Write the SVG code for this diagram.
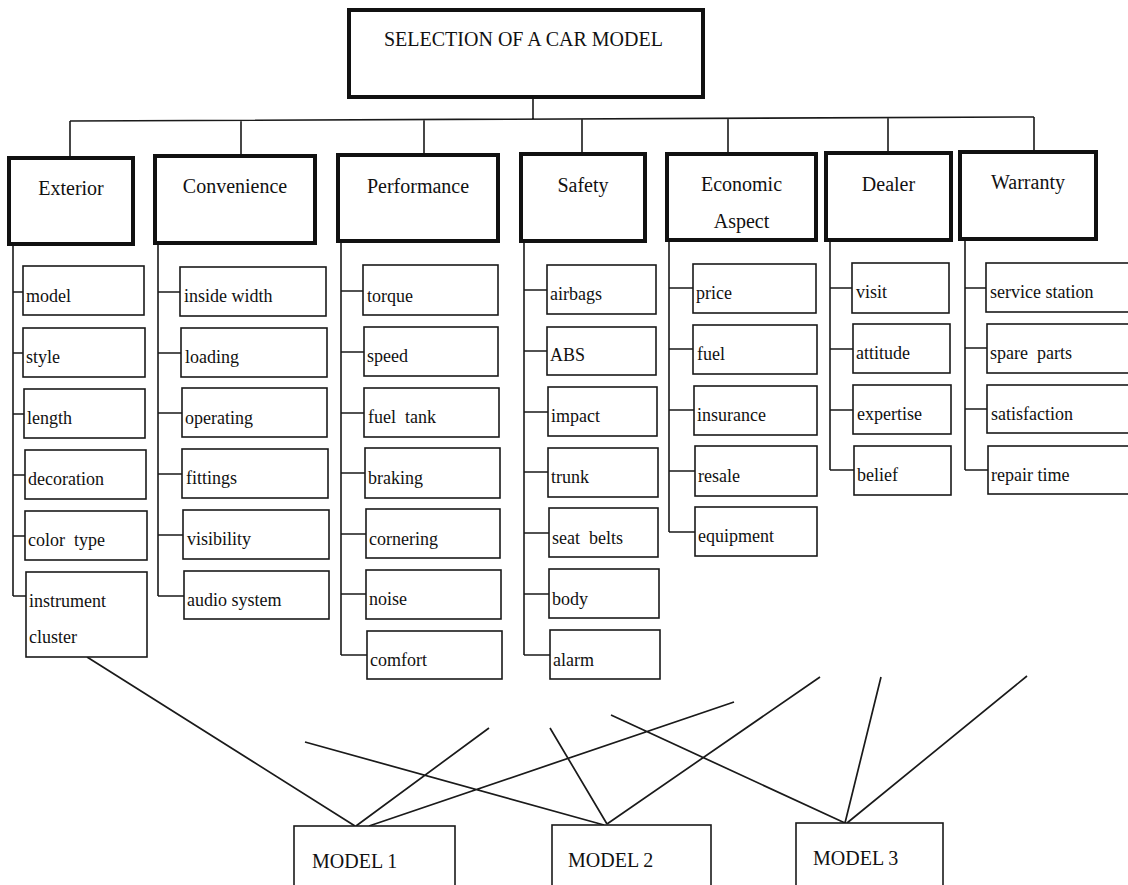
<svg xmlns="http://www.w3.org/2000/svg" width="1128" height="885" viewBox="0 0 1128 885">
<style>
  .top{fill:#fff;stroke:#111;stroke-width:4}
  .cat{fill:#fff;stroke:#111;stroke-width:4}
  .sub{fill:#fff;stroke:#1a1a1a;stroke-width:1.6}
  .mdl{fill:#fff;stroke:#1a1a1a;stroke-width:1.6}
  .ln{stroke:#1a1a1a;stroke-width:1.6;fill:none}
  .dg{stroke:#1a1a1a;stroke-width:1.7;fill:none}
  text{font-family:"Liberation Serif","Times New Roman",serif;fill:#111}
  .t20{font-size:20px}
  .tc{font-size:20px;text-anchor:middle}
  .t18{font-size:18px}
</style>
<rect width="1128" height="885" fill="#fff"/>

<!-- connectors -->
<g id="connectors">
  <path class="ln" d="M533,97 V119 M70,121 L1034,117 M70,121 V158 M241,120 V156 M424,120 V155 M582,119 V154 M728,119 V154 M888,118 V153 M1034,117 V152"/>
  <!-- Exterior -->
  <path class="ln" d="M13,244 V596 M13,292 H23 M13,353 H23 M13,414 H24 M13,475 H25 M13,536 H25 M13,596 H26"/>
  <!-- Convenience -->
  <path class="ln" d="M158,243 V596 M158,292 H180 M158,353 H181 M158,413 H182 M158,474 H182 M158,535 H183 M158,596 H184"/>
  <!-- Performance -->
  <path class="ln" d="M341,241 V655 M341,291 H363 M341,352 H364 M341,413 H364 M341,473 H365 M341,534 H366 M341,594 H366 M341,655 H367"/>
  <!-- Safety -->
  <path class="ln" d="M524,241 V655 M524,290 H547 M524,351 H547 M524,412 H548 M524,472 H548 M524,533 H549 M524,594 H549 M524,655 H550"/>
  <!-- Economic -->
  <path class="ln" d="M669,240 V532 M669,288 H693 M669,349 H693 M669,410 H694 M669,471 H695 M669,532 H695"/>
  <!-- Dealer -->
  <path class="ln" d="M830,240 V470 M830,288 H852 M830,349 H853 M830,410 H853 M830,470 H854"/>
  <!-- Warranty -->
  <path class="ln" d="M965,239 V470 M965,288 H986 M965,348 H987 M965,409 H987 M965,470 H988"/>
  <!-- criteria to models -->
  <path class="dg" d="M87,657 L355,826 M305,742 L604,825 M489,728 L356,826 M734,702 L369,826 M550,728 L607,824 M820,677 L607,824 M611,715 L845,823 M881,677 L845,823 M1027,676 L847,823"/>
</g>

<g id="goal">
  <rect class="top" x="349" y="10" width="354" height="87"/>
  <text class="t20" x="384" y="46">SELECTION OF A CAR MODEL</text>
</g>

<g id="cat-exterior"><rect class="cat" x="9" y="158" width="124" height="86"/><text class="tc" x="71" y="195">Exterior</text></g>
<g id="cat-convenience"><rect class="cat" x="155" y="156" width="160" height="87"/><text class="tc" x="235" y="193">Convenience</text></g>
<g id="cat-performance"><rect class="cat" x="338" y="155" width="160" height="86"/><text class="tc" x="418" y="193">Performance</text></g>
<g id="cat-safety"><rect class="cat" x="521" y="154" width="124" height="87"/><text class="tc" x="583" y="192">Safety</text></g>
<g id="cat-economic"><rect class="cat" x="667" y="154" width="149" height="86"/><text class="tc" x="741.5" y="191">Economic</text><text class="tc" x="741.5" y="228">Aspect</text></g>
<g id="cat-dealer"><rect class="cat" x="826" y="153" width="125" height="87"/><text class="tc" x="888.5" y="191">Dealer</text></g>
<g id="cat-warranty"><rect class="cat" x="960" y="152" width="136" height="87"/><text class="tc" x="1028" y="189">Warranty</text></g>

<!-- Exterior sub-criteria -->
<g id="ext-model"><rect class="sub" x="23" y="266" width="121" height="49"/><text class="t18" x="26" y="302">model</text></g>
<g id="ext-style"><rect class="sub" x="23" y="328" width="122" height="49"/><text class="t18" x="26" y="363">style</text></g>
<g id="ext-length"><rect class="sub" x="24" y="389" width="121" height="49"/><text class="t18" x="27" y="424">length</text></g>
<g id="ext-decoration"><rect class="sub" x="25" y="450" width="121" height="49"/><text class="t18" x="28" y="485">decoration</text></g>
<g id="ext-color"><rect class="sub" x="25" y="511" width="122" height="49"/><text class="t18" x="28" y="546" xml:space="preserve">color  type</text></g>
<g id="ext-instrument"><rect class="sub" x="26" y="572" width="121" height="85"/><text class="t18" x="29" y="607">instrument</text><text class="t18" x="29" y="643">cluster</text></g>

<!-- Convenience sub-criteria -->
<g id="con-inside"><rect class="sub" x="180" y="267" width="146" height="49"/><text class="t18" x="184" y="302">inside width</text></g>
<g id="con-loading"><rect class="sub" x="181" y="328" width="146" height="49"/><text class="t18" x="185" y="363">loading</text></g>
<g id="con-operating"><rect class="sub" x="182" y="388" width="145" height="49"/><text class="t18" x="185" y="424">operating</text></g>
<g id="con-fittings"><rect class="sub" x="182" y="449" width="146" height="49"/><text class="t18" x="186" y="484">fittings</text></g>
<g id="con-visibility"><rect class="sub" x="183" y="510" width="146" height="49"/><text class="t18" x="187" y="545">visibility</text></g>
<g id="con-audio"><rect class="sub" x="184" y="571" width="145" height="48"/><text class="t18" x="187" y="606">audio system</text></g>

<!-- Performance sub-criteria -->
<g id="per-torque"><rect class="sub" x="363" y="265" width="135" height="50"/><text class="t18" x="367" y="302">torque</text></g>
<g id="per-speed"><rect class="sub" x="364" y="327" width="134" height="49"/><text class="t18" x="367" y="362">speed</text></g>
<g id="per-fueltank"><rect class="sub" x="364" y="388" width="135" height="49"/><text class="t18" x="368" y="423" xml:space="preserve">fuel  tank</text></g>
<g id="per-braking"><rect class="sub" x="365" y="448" width="135" height="50"/><text class="t18" x="368" y="484">braking</text></g>
<g id="per-cornering"><rect class="sub" x="366" y="509" width="134" height="49"/><text class="t18" x="369" y="545">cornering</text></g>
<g id="per-noise"><rect class="sub" x="366" y="570" width="135" height="49"/><text class="t18" x="369" y="605">noise</text></g>
<g id="per-comfort"><rect class="sub" x="367" y="631" width="135" height="48"/><text class="t18" x="370" y="666">comfort</text></g>

<!-- Safety sub-criteria -->
<g id="saf-airbags"><rect class="sub" x="547" y="265" width="109" height="49"/><text class="t18" x="550" y="300">airbags</text></g>
<g id="saf-abs"><rect class="sub" x="547" y="327" width="109" height="48"/><text class="t18" x="550" y="361">ABS</text></g>
<g id="saf-impact"><rect class="sub" x="548" y="387" width="109" height="49"/><text class="t18" x="551" y="422">impact</text></g>
<g id="saf-trunk"><rect class="sub" x="548" y="448" width="110" height="49"/><text class="t18" x="551" y="483">trunk</text></g>
<g id="saf-seatbelts"><rect class="sub" x="549" y="508" width="109" height="49"/><text class="t18" x="552" y="544" xml:space="preserve">seat  belts</text></g>
<g id="saf-body"><rect class="sub" x="549" y="569" width="110" height="49"/><text class="t18" x="552" y="605">body</text></g>
<g id="saf-alarm"><rect class="sub" x="550" y="630" width="110" height="49"/><text class="t18" x="553" y="666">alarm</text></g>

<!-- Economic sub-criteria -->
<g id="eco-price"><rect class="sub" x="693" y="264" width="123" height="49"/><text class="t18" x="696" y="299">price</text></g>
<g id="eco-fuel"><rect class="sub" x="693" y="325" width="124" height="49"/><text class="t18" x="697" y="360">fuel</text></g>
<g id="eco-insurance"><rect class="sub" x="694" y="386" width="123" height="49"/><text class="t18" x="697" y="421">insurance</text></g>
<g id="eco-resale"><rect class="sub" x="695" y="446" width="122" height="50"/><text class="t18" x="698" y="482">resale</text></g>
<g id="eco-equipment"><rect class="sub" x="695" y="507" width="122" height="49"/><text class="t18" x="698" y="542">equipment</text></g>

<!-- Dealer sub-criteria -->
<g id="dea-visit"><rect class="sub" x="852" y="263" width="97" height="50"/><text class="t18" x="856" y="298">visit</text></g>
<g id="dea-attitude"><rect class="sub" x="853" y="324" width="97" height="49"/><text class="t18" x="856" y="359">attitude</text></g>
<g id="dea-expertise"><rect class="sub" x="853" y="385" width="98" height="49"/><text class="t18" x="857" y="420">expertise</text></g>
<g id="dea-belief"><rect class="sub" x="854" y="446" width="97" height="49"/><text class="t18" x="857" y="481">belief</text></g>

<!-- Warranty sub-criteria -->
<g id="war-service"><rect class="sub" x="986" y="263" width="160" height="49"/><text class="t18" x="990" y="298">service station</text></g>
<g id="war-spare"><rect class="sub" x="987" y="324" width="160" height="49"/><text class="t18" x="990" y="359" xml:space="preserve">spare  parts</text></g>
<g id="war-satisfaction"><rect class="sub" x="987" y="385" width="160" height="48"/><text class="t18" x="991" y="420">satisfaction</text></g>
<g id="war-repair"><rect class="sub" x="988" y="446" width="160" height="48"/><text class="t18" x="991" y="481">repair time</text></g>

<!-- Alternatives -->
<g id="model-1"><rect class="mdl" x="294" y="826" width="161" height="80"/><text class="t20" x="312" y="868">MODEL 1</text></g>
<g id="model-2"><rect class="mdl" x="552" y="825" width="159" height="80"/><text class="t20" x="568" y="867">MODEL 2</text></g>
<g id="model-3"><rect class="mdl" x="796" y="823" width="147" height="80"/><text class="t20" x="813" y="865">MODEL 3</text></g>
</svg>
